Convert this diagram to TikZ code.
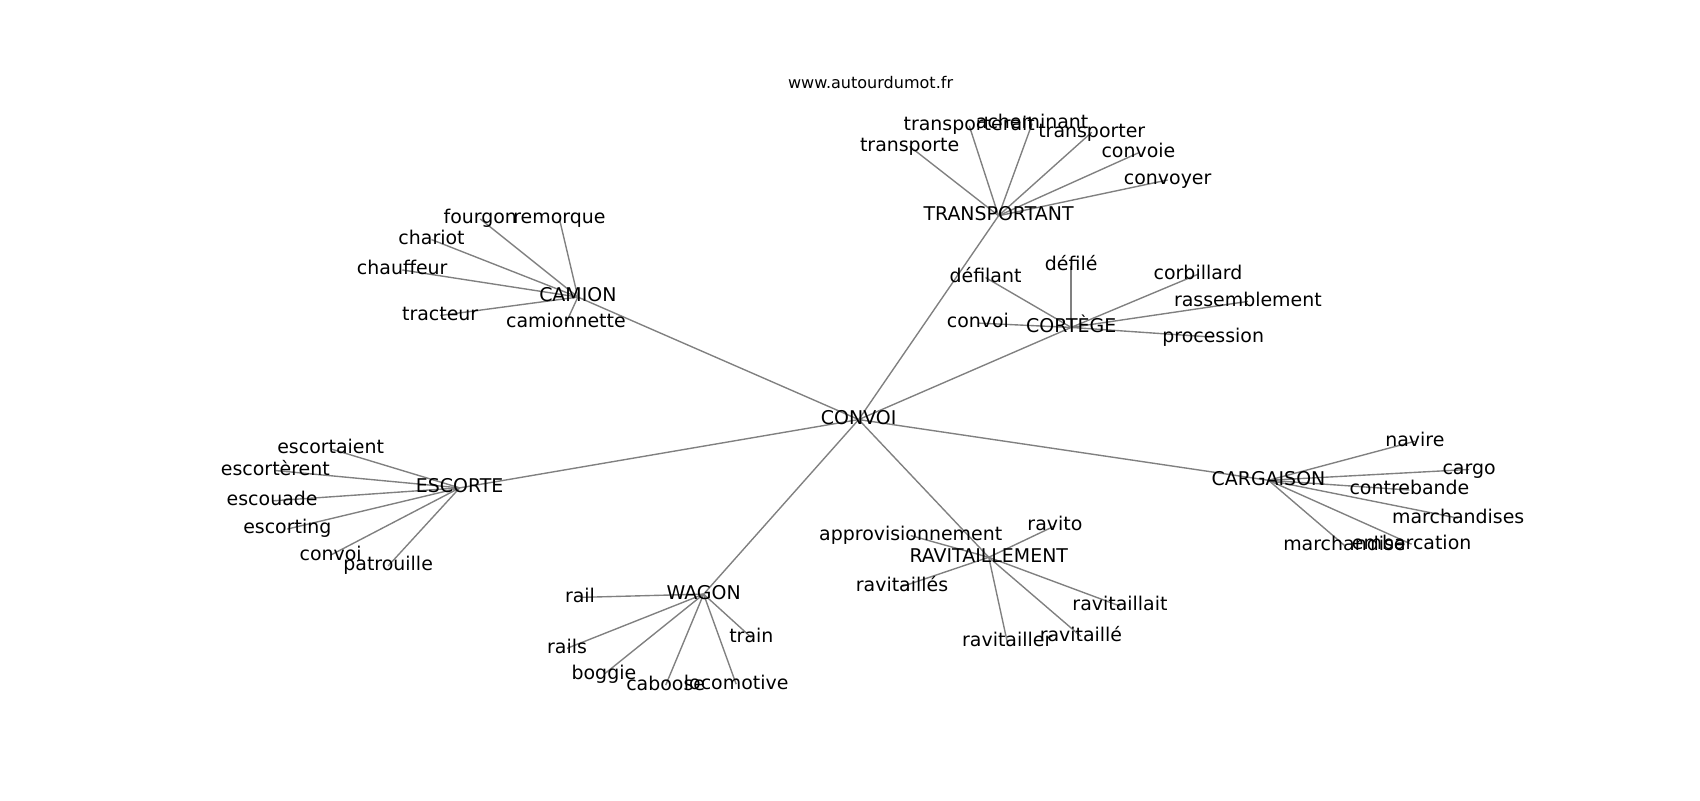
\documentclass[tikz,border=0pt]{standalone}
\usepackage{fontspec}
\setmainfont{DejaVu Sans}
\usetikzlibrary{backgrounds}
\tikzset{
  lbl/.style={font=\fontsize{13.7}{16}\selectfont, inner sep=0pt, text height=10.4pt, text depth=3.3pt, anchor=center},
  ttl/.style={font=\fontsize{11.6}{14}\selectfont, inner sep=0pt, text height=8.8pt, text depth=2.8pt, anchor=center},
  edge/.style={draw=gray, line width=1pt}
}
\begin{document}
\begin{tikzpicture}[x=0.010842in, y=-0.010842in]
\useasboundingbox (0,0) rectangle (1568,738);
\begin{scope}[shift={(0,2)}]
\node[ttl] (title) at (803,76) {www.autourdumot.fr};
% center and hubs
\node[lbl] (c) at (792,385) {CONVOI};
\node[lbl] (tr) at (921,197) {TRANSPORTANT};
\node[lbl] (cam) at (533,272) {CAMION};
\node[lbl] (cor) at (988,300) {CORTÈGE};
\node[lbl] (esc) at (424,448) {ESCORTE};
\node[lbl] (car) at (1170,441) {CARGAISON};
\node[lbl] (rav) at (912,512) {RAVITAILLEMENT};
\node[lbl] (wag) at (649,546) {WAGON};
% TRANSPORTANT leaves
\node[lbl] (tr1) at (839,133) {transporte};
\node[lbl] (tr2) at (894,114) {transporterait};
\node[lbl] (tr3) at (952,112) {acheminant};
\node[lbl] (tr4) at (1007,120) {transporter};
\node[lbl] (tr5) at (1050,139) {convoie};
\node[lbl] (tr6) at (1077,164) {convoyer};
% CAMION leaves
\node[lbl] (cam1) at (443,200) {fourgon};
\node[lbl] (cam2) at (516,200) {remorque};
\node[lbl] (cam3) at (398,219) {chariot};
\node[lbl] (cam4) at (371,247) {chauffeur};
\node[lbl] (cam5) at (406,289) {tracteur};
\node[lbl] (cam6) at (522,296) {camionnette};
% CORTEGE leaves
\node[lbl] (cor1) at (909,254) {défilant};
\node[lbl] (cor2) at (988,243) {défilé};
\node[lbl] (cor3) at (902,296) {convoi};
\node[lbl] (cor4) at (1105,251) {corbillard};
\node[lbl] (cor5) at (1151,276) {rassemblement};
\node[lbl] (cor6) at (1119,309) {procession};
% ESCORTE leaves
\node[lbl] (esc1) at (305,412) {escortaient};
\node[lbl] (esc2) at (254,432) {escortèrent};
\node[lbl] (esc3) at (251,460) {escouade};
\node[lbl] (esc4) at (265,486) {escorting};
\node[lbl] (esc5) at (305,510) {convoi};
\node[lbl] (esc6) at (358,520) {patrouille};
% WAGON leaves
\node[lbl] (wag1) at (535,549) {rail};
\node[lbl] (wag2) at (523,596) {rails};
\node[lbl] (wag3) at (557,620) {boggie};
\node[lbl] (wag4) at (614,630) {caboose};
\node[lbl] (wag5) at (679,629) {locomotive};
\node[lbl] (wag6) at (693,586) {train};
% RAVITAILLEMENT leaves
\node[lbl] (rav1) at (840,492) {approvisionnement};
\node[lbl] (rav2) at (973,483) {ravito};
\node[lbl] (rav3) at (832,539) {ravitaillés};
\node[lbl] (rav4) at (1033,557) {ravitaillait};
\node[lbl] (rav5) at (997,585) {ravitaillé};
\node[lbl] (rav6) at (929,590) {ravitailler};
% CARGAISON leaves
\node[lbl] (car1) at (1305,405) {navire};
\node[lbl] (car2) at (1355,431) {cargo};
\node[lbl] (car3) at (1300,450) {contrebande};
\node[lbl] (car4) at (1345,476) {marchandises};
\node[lbl] (car5) at (1302,500) {embarcation};
\node[lbl] (car6) at (1240,501) {marchandise};
\end{scope}
\begin{scope}[on background layer]
  \foreach \h in {tr,cam,cor,esc,car,rav,wag}{
    \draw[edge] (c.center) -- (\h.center);
    \foreach \i in {1,...,6}{
      \draw[edge] (\h.center) -- (\h\i.center);
    }
  }
\end{scope}
\end{tikzpicture}
\end{document}
